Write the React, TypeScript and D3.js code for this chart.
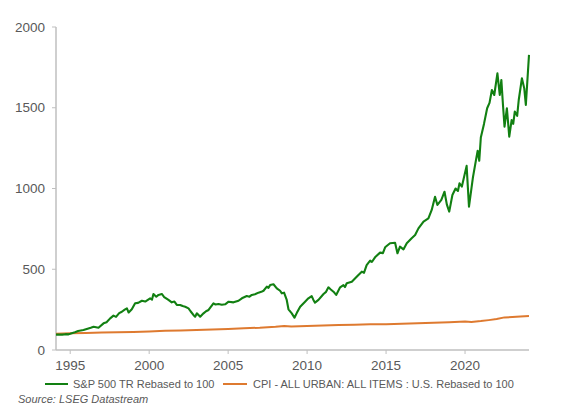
import React from 'react';
import * as d3 from 'd3';

// S&P 500 TR rebased to 100 (fractional year, value)
const spxDates = [
  1994.1, 1994.3, 1994.5, 1994.7, 1994.9, 1995.0, 1995.3, 1995.5, 1995.84, 1996.1, 1996.3, 1996.48, 1996.79,
  1997.11, 1997.3, 1997.53, 1997.74, 1997.9, 1998.1, 1998.27, 1998.45, 1998.59, 1998.7, 1998.9, 1999.11,
  1999.3, 1999.54, 1999.75, 2000.06, 2000.18, 2000.27, 2000.45, 2000.59, 2000.8, 2000.95, 2001.1, 2001.22,
  2001.43, 2001.6, 2001.75, 2001.96, 2002.12, 2002.28, 2002.49, 2002.62, 2002.8, 2002.91, 2003.02, 2003.23,
  2003.44, 2003.6, 2003.76, 2004.07, 2004.2, 2004.39, 2004.6, 2004.81, 2005.03, 2005.34, 2005.5, 2005.66,
  2005.87, 2006.18, 2006.35, 2006.5, 2006.7, 2006.92, 2007.1, 2007.24, 2007.45, 2007.55, 2007.66, 2007.87,
  2008.08, 2008.29, 2008.4, 2008.54, 2008.71, 2008.82, 2009.03, 2009.2, 2009.35, 2009.56, 2009.87, 2010.08,
  2010.29, 2010.4, 2010.5, 2010.72, 2011.04, 2011.2, 2011.35, 2011.5, 2011.67, 2011.84, 2012.09, 2012.3,
  2012.4, 2012.51, 2012.83, 2013.14, 2013.46, 2013.6, 2013.77, 2013.99, 2014.1, 2014.3, 2014.62, 2014.8,
  2014.94, 2015.25, 2015.57, 2015.72, 2015.88, 2016.1, 2016.31, 2016.62, 2016.84, 2017.05, 2017.37, 2017.68,
  2017.89, 2018.1, 2018.25, 2018.5, 2018.7, 2018.85, 2019.0, 2019.2, 2019.4, 2019.55, 2019.65, 2019.8,
  2020.1, 2020.25, 2020.5, 2020.7, 2020.8, 2020.9, 2021.0, 2021.2, 2021.4, 2021.55, 2021.7, 2021.85, 2022.05,
  2022.2, 2022.3, 2022.4, 2022.5, 2022.65, 2022.8, 2022.95, 2023.05, 2023.15, 2023.3, 2023.4, 2023.6,
  2023.75, 2023.85, 2024.05,
];
const spxValues = [
  95, 96, 95, 98, 97, 100, 110, 118, 124, 132, 138, 144, 138,
  165, 172, 196, 213, 205, 228, 237, 250, 258, 232, 252, 289,
  292, 305, 300, 320, 312, 347, 330, 341, 347, 328, 318, 310,
  295, 300, 279, 279, 272, 268, 258, 240, 217, 206, 227, 206,
  227, 240, 248, 289, 282, 285, 280, 283, 299, 295, 300, 305,
  320, 334, 330, 341, 345, 355, 360, 367, 392, 385, 402, 407,
  382, 367, 351, 355, 310, 252, 227, 200, 230, 268, 299, 320,
  334, 310, 293, 310, 347, 360, 388, 375, 361, 341, 388, 402,
  390, 413, 423, 454, 485, 478, 526, 553, 545, 574, 603, 600,
  636, 661, 664, 599, 640, 623, 661, 692, 712, 753, 795, 815,
  867, 949, 898, 930, 980, 900, 857, 960, 1000, 985, 1032, 1012,
  1140, 888, 1069, 1180, 1234, 1172, 1316, 1400, 1497, 1530, 1610, 1579, 1713,
  1579, 1672, 1520, 1383, 1497, 1321, 1424, 1400, 1476, 1450, 1548, 1682,
  1620, 1517, 1827,
];

// CPI - all urban, all items, U.S., rebased to 100
const cpiDates = [
  1994.1, 1995.0, 1996.0, 1997.0, 1998.0, 1999.0, 2000.0, 2001.0, 2002.0, 2003.0, 2004.0, 2005.0, 2006.0,
  2007.0, 2008.0, 2008.55, 2009.0, 2010.0, 2011.0, 2012.0, 2013.0, 2014.0, 2015.0, 2016.0, 2017.0,
  2018.0, 2019.0, 2020.0, 2020.4, 2021.0, 2021.5, 2022.0, 2022.5, 2023.0, 2023.5, 2024.05,
];
const cpiValues = [
  100, 103, 105, 109, 110, 112, 115, 119, 121, 124, 127, 130, 135,
  138, 144, 149, 145, 148, 151, 155, 157, 160, 159, 162, 165,
  169, 172, 176, 174, 179, 185, 192, 202, 204, 207, 211,
];

const xTicks = [1995, 2000, 2005, 2010, 2015, 2020];
const yTicks = [0, 500, 1000, 1500, 2000];
const seriesNames = ['S&P 500 TR Rebased to 100', 'CPI - ALL URBAN: ALL ITEMS : U.S. Rebased to 100'];
const seriesColors = ['#128012', '#de7a30'];
const sourceNote = 'Source: LSEG Datastream';

const W = 562;
const H = 407;
const margin = { top: 27, right: 33, bottom: 57, left: 56 };

export default function App() {
  const x = d3.scaleLinear().domain([1994.1, 2024.05]).range([margin.left, W - margin.right]);
  const y = d3.scaleLinear().domain([0, 2000]).range([H - margin.bottom, margin.top]);

  const line = d3.line<[number, number]>()
    .x(d => x(d[0]))
    .y(d => y(d[1]));

  const spx = spxDates.map((d, i) => [d, spxValues[i]] as [number, number]);
  const cpi = cpiDates.map((d, i) => [d, cpiValues[i]] as [number, number]);

  const axisColor = '#bfbfbf';
  const textColor = '#595959';
  const font = '"Liberation Sans", Arial, sans-serif';
  const y0 = y(0);

  return (
    <svg width={W} height={H} style={{ position: 'absolute', left: 0, top: 0, fontFamily: font }}>
      <rect width={W} height={H} fill="#fff" />

      {/* axes */}
      <line x1={margin.left} x2={margin.left} y1={y(2000)} y2={y0} stroke={axisColor} strokeWidth={1.5} />
      <line x1={margin.left} x2={W - margin.right} y1={y0} y2={y0} stroke={axisColor} strokeWidth={1.5} />
      {yTicks.map(t => (
        <g key={t}>
          <line x1={margin.left - 4} x2={margin.left} y1={y(t)} y2={y(t)} stroke={axisColor} />
          <text x={margin.left - 11} y={y(t)} dy="0.35em" textAnchor="end" fontSize={13.5} fill={textColor}>{t}</text>
        </g>
      ))}
      {xTicks.map(t => (
        <g key={t}>
          <line x1={x(t)} x2={x(t)} y1={y0} y2={y0 + 4} stroke={axisColor} />
          <text x={x(t)} y={y0 + 20} textAnchor="middle" fontSize={13.5} fill={textColor}>{t}</text>
        </g>
      ))}

      {/* series */}
      <path d={line(cpi) || ''} fill="none" stroke={seriesColors[1]} strokeWidth={2} strokeLinejoin="round" />
      <path d={line(spx) || ''} fill="none" stroke={seriesColors[0]} strokeWidth={2.1} strokeLinejoin="round" />

      {/* legend */}
      <line x1={45} x2={68} y1={384} y2={384} stroke={seriesColors[0]} strokeWidth={2} />
      <text x={73} y={384} dy="0.35em" fontSize={11} fill={textColor}>{seriesNames[0]}</text>
      <line x1={223} x2={247} y1={384} y2={384} stroke={seriesColors[1]} strokeWidth={2} />
      <text x={253} y={384} dy="0.35em" fontSize={11} fill={textColor}>{seriesNames[1]}</text>

      <text x={18} y={399} dy="0.35em" fontSize={11} fontStyle="italic" fill={textColor}>{sourceNote}</text>
    </svg>
  );
}
